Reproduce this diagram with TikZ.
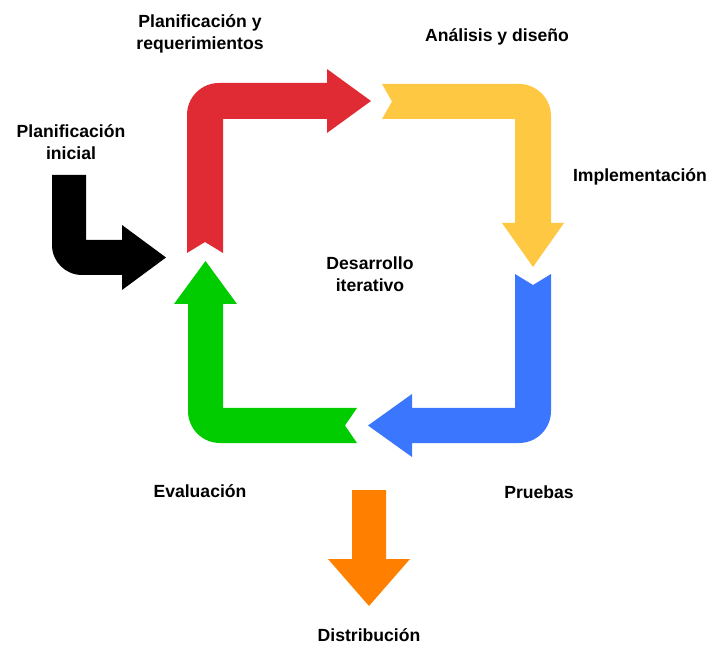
\documentclass[tikz,border=0pt]{standalone}
\usepackage{fontspec}
\setmainfont{Liberation Sans}
\definecolor{cred}{HTML}{E02B35}
\definecolor{cyellow}{HTML}{FEC843}
\definecolor{cblue}{HTML}{3A76FE}
\definecolor{cgreen}{HTML}{00CC00}
\definecolor{corange}{HTML}{FF8000}
\tikzset{
  lbl/.style={font=\fontsize{17.6}{21.5}\selectfont\bfseries, align=center, inner sep=0pt}
}
\begin{document}
\begin{tikzpicture}[x=1pt,y=1pt]
\useasboundingbox (0,0) rectangle (715,646);
% red
\fill[cred] (187,393) -- (205,404) -- (223,393) -- (223,527) -- (327,527) -- (327,513) -- (371,545) -- (327,577) -- (327,563) -- (219,563) .. controls (201.3,563) and (187,548.7) .. (187,531) -- cycle;
% yellow
\fill[cyellow] (382,562) -- (392,544.5) -- (382,527) -- (515,527) -- (515,423) -- (502,423) -- (533,379) -- (564,423) -- (551,423) -- (551,530) .. controls (551,547.7) and (536.7,562) .. (519,562) -- cycle;
% blue
\fill[cblue] (515,372) -- (533,361) -- (551,372) -- (551,235) .. controls (551,217.3) and (536.7,203) .. (519,203) -- (412,203) -- (412,189) -- (368,220.5) -- (412,252) -- (412,238) -- (515,238) -- cycle;
% green
\fill[cgreen] (357,238) -- (345,220.5) -- (357,203) -- (220,203) .. controls (202.3,203) and (188,217.3) .. (188,235) -- (188,342) -- (174,342) -- (205.5,385) -- (237,342) -- (223,342) -- (223,238) -- cycle;
% black
\fill[black] (52,471) -- (86,471) -- (86,406) -- (122,406) -- (122,421) -- (166,388.5) -- (122,356) -- (122,371) -- (82,371) .. controls (65.4,371) and (52,384.4) .. (52,401) -- cycle;
% orange
\fill[corange] (352,156) -- (386,156) -- (386,87) -- (410,87) -- (369,40) -- (328,87) -- (352,87) -- cycle;
% labels
\node[lbl] (plan) at (200,612) {Planificación y\\requerimientos};
\node[lbl] (anal) at (497,609) {Análisis y diseño};
\node[lbl] (impl) at (640,469) {Implementación};
\node[lbl] (ini) at (71,504) {Planificación\\inicial};
\node[lbl] (des) at (370,372) {Desarrollo\\iterativo};
\node[lbl] (eva) at (200,155) {Evaluación};
\node[lbl] (pru) at (539,154) {Pruebas};
\node[lbl] (dist) at (369,11) {Distribución};
\end{tikzpicture}
\end{document}
